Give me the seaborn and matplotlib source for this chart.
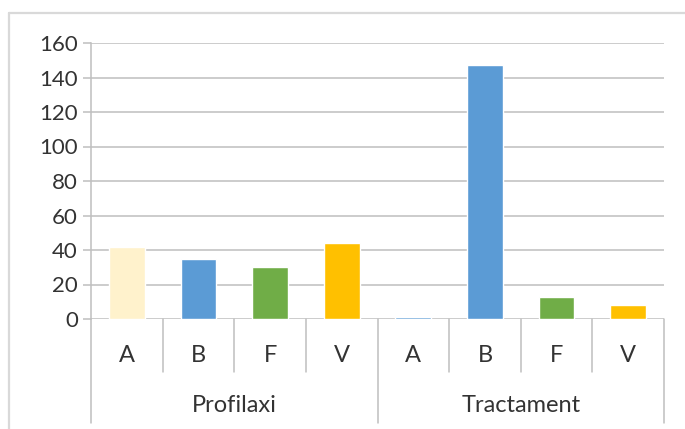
import matplotlib
matplotlib.use("Agg")
import matplotlib.pyplot as plt
import matplotlib.transforms as mtransforms
from matplotlib.lines import Line2D
import seaborn as sns
import pandas as pd

# Data
groups = ["Profilaxi", "Tractament"]
items = ["A", "B", "F", "V"]
profilaxi_values = [42, 35, 30, 44]
tractament_values = [1, 147, 13, 8]
profilaxi_colors = ["#FFF2CC", "#5B9BD5", "#70AD47", "#FFC000"]
tractament_colors = ["#5B9BD5", "#5B9BD5", "#70AD47", "#FFC000"]
y_ticks = [0, 20, 40, 60, 80, 100, 120, 140, 160]

rows = []
for g, vals in zip(groups, [profilaxi_values, tractament_values]):
    for it, v in zip(items, vals):
        rows.append({"slot": f"{g} {it}", "group": g, "item": it, "value": v})
df = pd.DataFrame(rows)
slots = list(df["slot"])
slot_colors = dict(zip(slots, profilaxi_colors + tractament_colors))

sns.set_style("white")
plt.rcParams["font.family"] = ["Lato", "DejaVu Sans"]

W, H, DPI = 685, 429, 100
fig = plt.figure(figsize=(W / DPI, H / DPI), dpi=DPI)
ax = fig.add_axes([91 / W, 1 - 319 / H, (664 - 91) / W, (319 - 43) / H])

grid_c = "#BFBFBF"
text_c = "#333333"
fs = 16
fs_cat = 17

sns.barplot(data=df, x="slot", y="value", hue="slot", order=slots,
            hue_order=slots, palette=slot_colors, dodge=False, width=0.5,
            legend=False, saturation=1, ax=ax, zorder=3)

ax.set_xlim(-0.5, len(slots) - 0.5)
ax.set_ylim(0, 160)
ax.set_yticks(y_ticks)
ax.set_yticklabels([str(t) for t in y_ticks], fontsize=fs, color=text_c)
ax.yaxis.grid(True, color=grid_c, linewidth=1.1, zorder=0)
ax.set_axisbelow(True)
ax.tick_params(axis="y", length=5.5, width=1.1, color=grid_c, pad=4, direction="out", left=True)
ax.set_xticks([])
ax.set_xlabel("")
ax.set_ylabel("")
for side in ["top", "right", "bottom"]:
    ax.spines[side].set_visible(False)
ax.spines["left"].set_color(grid_c)
ax.spines["left"].set_linewidth(1.1)

# Two-level category axis drawn below the plot
tr = mtransforms.blended_transform_factory(ax.transData, fig.transFigure)
y0 = 1 - 319 / H
y_inner = 1 - 372 / H
y_outer = 1 - 423 / H
n = len(slots)
for k in range(n + 1):
    x = k - 0.5
    bottom = y_outer if k % len(items) == 0 else y_inner
    ax.add_line(Line2D([x, x], [y0, bottom], transform=tr, color=grid_c,
                       linewidth=1.1, clip_on=False))
for i, it in enumerate(list(df["item"])):
    ax.text(i, 1 - 355 / H, it, transform=tr, ha="center", va="center",
            fontsize=fs_cat, color=text_c)
for gi, g in enumerate(groups):
    cx = gi * len(items) + (len(items) - 1) / 2
    ax.text(cx, 1 - 405 / H, g, transform=tr, ha="center", va="center",
            fontsize=fs_cat, color=text_c)

# Chart area border
frame_c = "#D9D9D9"
fig.add_artist(Line2D([8.5 / W, 8.5 / W], [0, 1 - 13 / H], transform=fig.transFigure,
                      color=frame_c, linewidth=1.6))
fig.add_artist(Line2D([8.5 / W, 1], [1 - 13 / H, 1 - 13 / H], transform=fig.transFigure,
                      color=frame_c, linewidth=1.6))

fig.savefig("out.png", dpi=DPI, facecolor="white")
